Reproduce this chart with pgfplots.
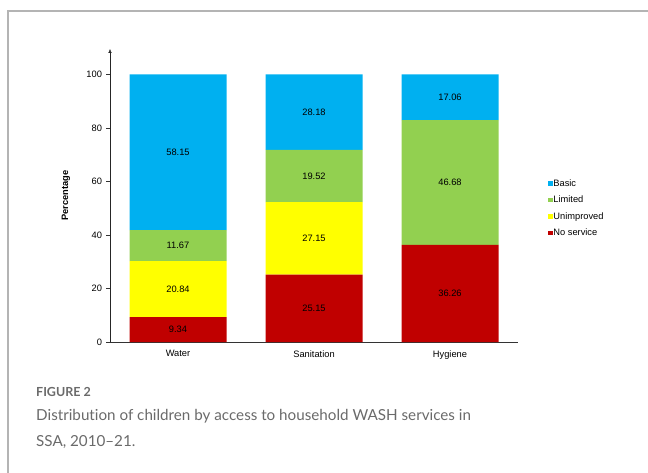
\documentclass[border=0pt]{standalone}
\usepackage{fontspec}
\setmainfont{Liberation Sans}
\newfontfamily\capfont[Ligatures={NoCommon,TeX}]{Lato}
\usepackage{pgfplots}
\usepackage{pgfplotstable}
\pgfplotsset{compat=1.18}
\usetikzlibrary{arrows.meta}
\definecolor{cBasic}{HTML}{00B0F0}
\definecolor{cLimited}{HTML}{92D050}
\definecolor{cUnimp}{HTML}{FFFF00}
\definecolor{cNone}{HTML}{C00000}
\definecolor{capgray}{HTML}{6A6A6A}
\definecolor{boxgray}{HTML}{B4B4B4}
\newcommand{\cf}{\fontsize{9.3}{11}\selectfont}

\pgfplotstableread{
x nosvc unimp limited basic
0 9.34  20.84 11.67 58.15
1 25.15 27.15 19.52 28.18
2 36.26 0     46.68 17.06
}\washdata

\pgfplotstableread{
x ymid label
0 4.67   9.34
0 19.76  20.84
0 36.015 11.67
0 70.925 58.15
1 12.575 25.15
1 38.725 27.15
1 62.06  19.52
1 85.91  28.18
2 18.13  36.26
2 59.60  46.68
2 91.47  17.06
}\labeldata

\begin{document}
\begin{tikzpicture}[x=1pt,y=1pt]
\begin{scope}
\clip (0,0) rectangle (648,472);
\draw[boxgray, line width=1.2pt] (8,-30) rectangle (720,461);
\end{scope}

\pgfplotsset{geom/.style={
  at={(110pt,130pt)}, anchor=south west,
  scale only axis, width=408pt, height=293pt,
  xmin=-0.5, xmax=2.5, ymin=0, ymax=109.5}}

\begin{axis}[geom,
  ybar stacked, bar width=97pt,
  axis x line=bottom, axis y line=left,
  x axis line style={-, black!80},
  y axis line style={-{Latex[length=4pt,width=3.5pt]}, black!85},
  xtick=data, xticklabels={Water,Sanitation,Hygiene},
  xtick style={draw=none},
  ytick={0,20,...,100},
  tick align=outside, major tick length=4pt,
  ytick style={black!80},
  /pgf/number format/assume math mode=true,
  ticklabel style={font=\cf},
  yticklabel style={xshift=-0.5pt},
  xticklabel style={yshift=-1pt},
  ylabel={\textbf{Percentage}},
  ylabel style={font=\cf, at={(axis description cs:-0.108,0.5)}, anchor=center},
  reverse legend,
  legend cell align=left,
  legend style={draw=none, fill=none, at={(axis description cs:1.0735,0.558)}, anchor=north west,
    font=\cf, row sep=6.6pt, inner sep=0pt,
    /tikz/every odd column/.append style={column sep=0pt},
    nodes={inner sep=0.8pt}},
  legend image code/.code={\fill[#1] (0pt,-2.2pt) rectangle (4.4pt,2.2pt);},
]
\addplot[fill=cNone, draw=none] table[x=x,y=nosvc]{\washdata};
\addlegendentry{No service}
\addplot[fill=cUnimp, draw=none] table[x=x,y=unimp]{\washdata};
\addlegendentry{Unimproved}
\addplot[fill=cLimited, draw=none] table[x=x,y=limited]{\washdata};
\addlegendentry{Limited}
\addplot[fill=cBasic, draw=none] table[x=x,y=basic]{\washdata};
\addlegendentry{Basic}
\end{axis}

\begin{axis}[geom, hide axis]
\addplot[only marks, mark=none, nodes near coords, point meta=explicit symbolic,
  every node near coord/.style={anchor=center, font=\cf, text=black}]
  table[x=x, y=ymid, meta=label]{\labeldata};
\end{axis}

\node[anchor=base west, inner sep=0pt, text=capgray, font=\capfont\bfseries\fontsize{12.5}{14}\selectfont] at (36,76) {FIGURE 2};
\node[anchor=base west, text=capgray, font=\capfont\fontsize{15.2}{18}\selectfont, inner sep=0pt] at (36,52) {Distribution of children by access to household WASH services in};
\node[anchor=base west, text=capgray, font=\capfont\fontsize{15.2}{18}\selectfont, inner sep=0pt] at (36,26) {SSA, 2010–21.};

\pgfresetboundingbox
\path[use as bounding box] (0,0) rectangle (648,472);
\end{tikzpicture}
\end{document}
